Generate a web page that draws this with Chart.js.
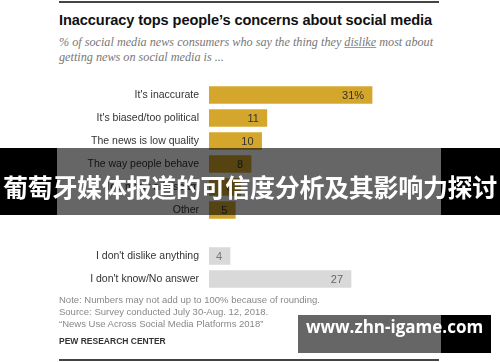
<!DOCTYPE html>
<html>
<head>
<meta charset="utf-8">
<script src="https://cdn.jsdelivr.net/npm/chart.js@4/dist/chart.umd.min.js"></script>
<style>
  body { margin: 0; background: #fff; }
  #wrap { position: relative; width: 500px; height: 362px; overflow: hidden; font-family: "Liberation Sans", Arial, sans-serif; }
  #chart { position: absolute; left: 0; top: 0; }
  .rule { position: absolute; left: 59px; width: 380px; height: 2px; background: #444; }
  #title { position: absolute; left: 59px; top: 12px; font: bold 14.6px "Liberation Sans", Arial, sans-serif; color: #111; white-space: nowrap; letter-spacing: -0.1px; }
  #sub { position: absolute; left: 59px; top: 35px; font: italic 12.2px "Liberation Serif", serif; color: #777; line-height: 15px; width: 390px; }
  #sub u { text-decoration-color: #999; }
  #notes { position: absolute; left: 59px; top: 294px; font-size: 9.5px; color: #888; line-height: 12px; white-space: nowrap; }
  #pew { position: absolute; left: 59px; top: 336px; font: bold 8.5px "Liberation Sans", Arial, sans-serif; color: #333; }
  .band { position: absolute; top: 148px; height: 67px; }
  #banner-text { position: absolute; left: 0; top: 168px; width: 500px; height: 30px; line-height: 30px; text-align: center; color: #fff; font: bold 25px "Noto Sans CJK SC", sans-serif; white-space: nowrap; letter-spacing: -0.3px; z-index: 3; }
  .wm { position: absolute; top: 315px; height: 38px; }
  #wm-text { position: absolute; left: 298px; top: 315px; width: 193px; height: 38px; line-height: 38px; text-align: center; color: #fff; font: bold 17px "Open Sans", sans-serif; z-index: 3; }
</style>
</head>
<body>
<div id="wrap">
  <div class="rule" style="top:1px"></div>
  <div id="title">Inaccuracy tops people’s concerns about social media</div>
  <div id="sub">% of social media news consumers who say the thing they <u>dislike</u> most about getting news on social media is ...</div>
  <canvas id="chart" width="500" height="362"></canvas>
  <div id="notes">Note: Numbers may not add up to 100% because of rounding.<br>Source: Survey conducted July 30-Aug. 12, 2018.<br>“News Use Across Social Media Platforms 2018”</div>
  <div id="pew">PEW RESEARCH CENTER</div>
  <div class="rule" style="top:359px"></div>

  <div class="band" style="left:0;width:57px;background:#000;z-index:2"></div>
  <div class="band" style="left:57px;width:384px;background:rgba(0,0,0,0.6);z-index:2"></div>
  <div class="band" style="left:441px;width:59px;background:#000;z-index:2"></div>
  <div id="banner-text">葡萄牙媒体报道的可信度分析及其影响力探讨</div>

  <div class="wm" style="left:298px;width:143px;background:rgba(0,0,0,0.6);z-index:2"></div>
  <div class="wm" style="left:441px;width:50px;background:#000;z-index:2"></div>
  <div id="wm-text">www.zhn-igame.com</div>
</div>
<script>
var categories = ["It's inaccurate", "It's biased/too political", "The news is low quality", "The way people behave", "Too many ads/spam", "Other", "", "I don't dislike anything", "I don't know/No answer"];
var values = [31, 11, 10, 8, 6, 5, null, 4, 27];
var valueLabels = ["31%", "11", "10", "8", "6", "5", "", "4", "27"];
var barColors = ["#d4a72c", "#d4a72c", "#d4a72c", "#d4a72c", "#d4a72c", "#d4a72c", "#d4a72c", "#d9d9d9", "#d9d9d9"];
var labelColors = ["#333", "#333", "#333", "#333", "#333", "#333", "#333", "#777", "#666"];

// writes the number inside the end of each bar
var barLabels = {
  id: 'barLabels',
  afterDatasetsDraw: function(chart) {
    var ctx = chart.ctx;
    var meta = chart.getDatasetMeta(0);
    ctx.save();
    ctx.font = '11px "Liberation Sans", Arial, sans-serif';
    ctx.textAlign = 'right';
    ctx.textBaseline = 'middle';
    meta.data.forEach(function(bar, i) {
      if (values[i] == null) return;
      ctx.fillStyle = labelColors[i];
      ctx.fillText(valueLabels[i], bar.x - 8, bar.y + 1);
    });
    ctx.restore();
  }
};

var ctx = document.getElementById('chart').getContext('2d');
var chart = new Chart(ctx, {
  type: 'bar',
  data: {
    labels: categories,
    datasets: [{
      data: values,
      backgroundColor: barColors,
      barThickness: 17
    }]
  },
  options: {
    indexAxis: 'y',
    responsive: false,
    animation: false,
    layout: { padding: { top: 83.5, bottom: 71.5, right: 28, left: 0 } },
    plugins: { legend: { display: false }, tooltip: { enabled: false } },
    scales: {
      x: { min: 0, max: 50, display: false },
      y: {
        grid: { display: false, drawTicks: false },
        border: { display: false },
        ticks: {
          padding: 10,
          color: '#333',
          font: { family: '"Liberation Sans", Arial, sans-serif', size: 10.5 }
        },
        afterFit: function(scale) { scale.width = 209; }
      }
    }
  },
  plugins: [barLabels]
});
</script>
</body>
</html>
